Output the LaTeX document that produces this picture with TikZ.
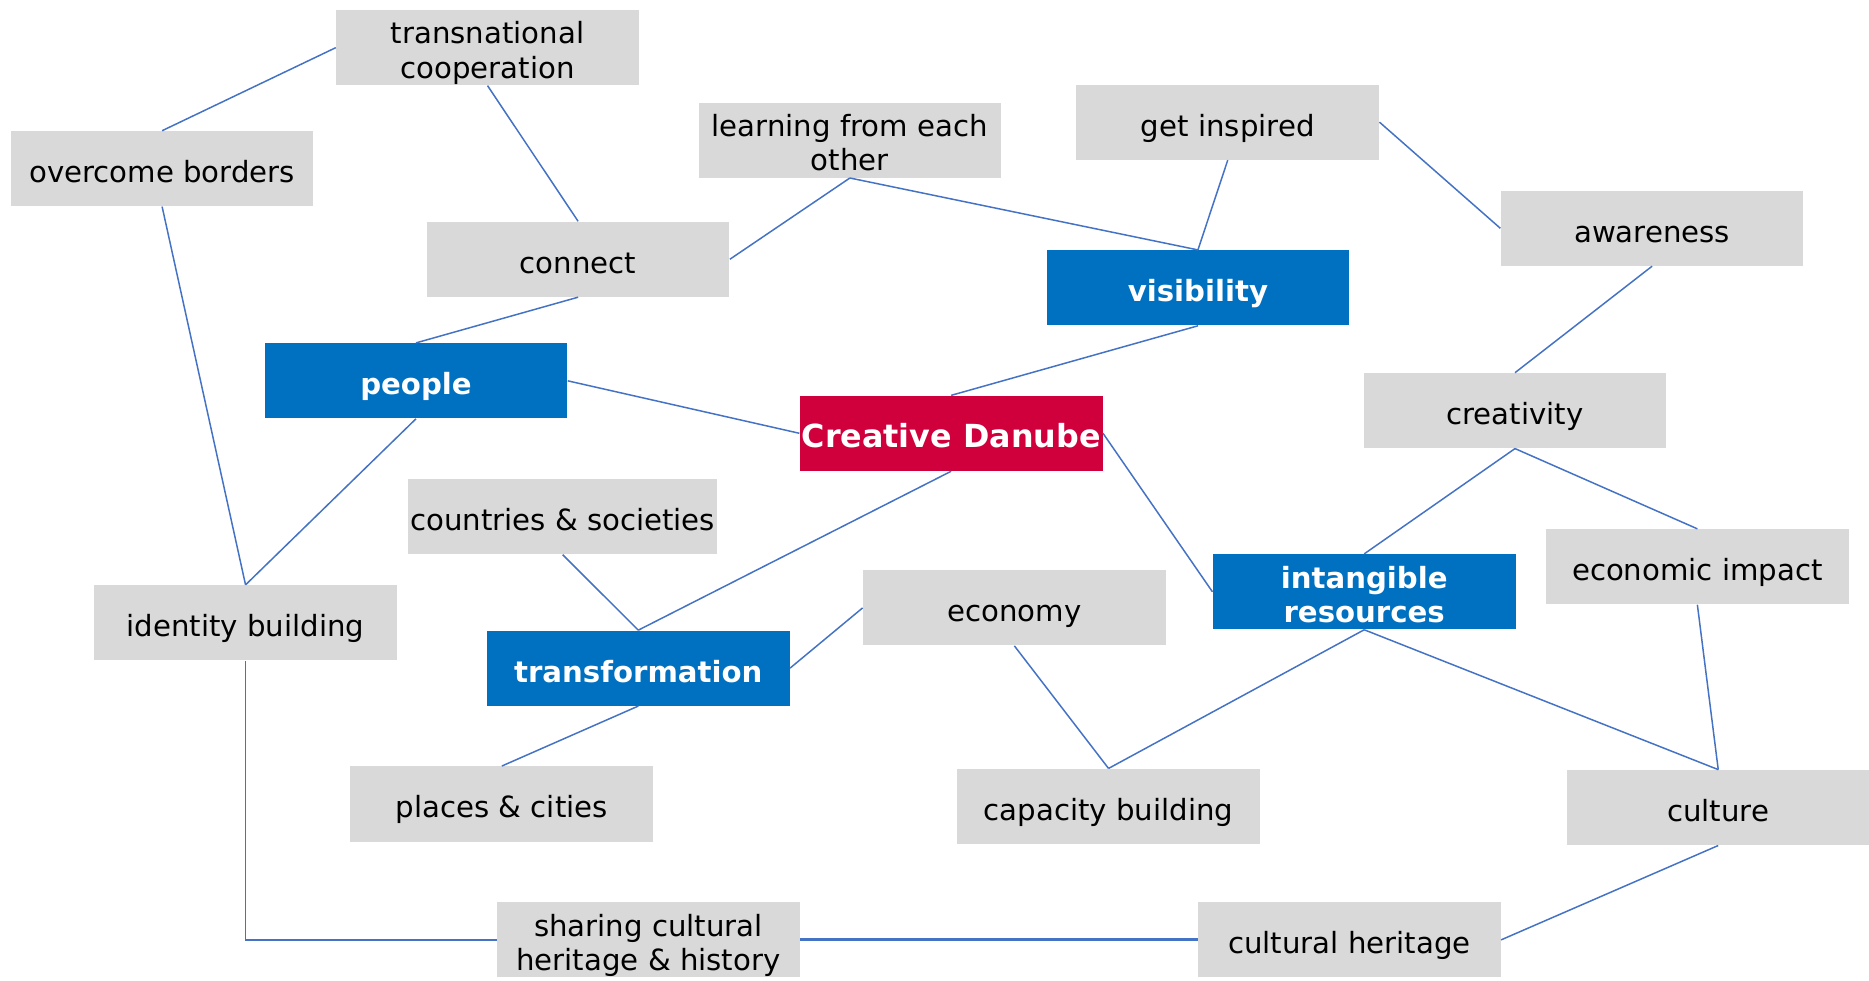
\documentclass[tikz,border=0pt]{standalone}
\usepackage{fontspec}
\setmainfont{DejaVu Sans}
\usetikzlibrary{positioning}

\definecolor{boxgray}{HTML}{D9D9D9}
\definecolor{themeblue}{HTML}{0070C0}
\definecolor{danubered}{HTML}{D0003C}
\definecolor{linkblue}{HTML}{4472C4}

\begin{document}
\begin{tikzpicture}[
  x=0.6pt,y=-0.6pt,
  font=\fontsize{14.7}{17.4}\selectfont,
  box/.style={fill=boxgray,minimum width=152.4pt,minimum height=37.8pt,align=center,inner sep=1pt,
    execute at begin node={\rule{0pt}{17.6pt}},execute at end node={\rule[-3.6pt]{0pt}{0pt}}},
  twoline/.style={inner ysep=0pt,text height=34.4pt,text depth=3.4pt},
  theme/.style={box,fill=themeblue,text=white,font=\fontsize{14.7}{17.4}\selectfont\bfseries},
  core/.style={theme,fill=danubered,font=\fontsize{16}{19}\selectfont\bfseries},
  link/.style={draw=linkblue,line width=0.75pt},
  bold link/.style={link,line width=1.5pt},
]
\useasboundingbox (0,0) rectangle (1568,823);

% hub and the four themes
\node[core] (danube) at (798,363.5) {Creative Danube};
\node[theme] (people) at (349,319.5) {people};
\node[theme] (vis) at (1005,241.5) {visibility};
\node[theme] (transf) at (535.5,560.5) {transformation};
\node[theme,twoline] (intang) at (1144.5,496.5) {intangible\\resources};

% grey topics
\node[box,twoline] (transn) at (409,40) {transnational\\cooperation};
\node[box] (borders) at (136,141.5) {overcome borders};
\node[box,twoline] (learn) at (713,117.5) {learning from each\\other};
\node[box] (inspired) at (1030,102.5) {get inspired};
\node[box] (aware) at (1386,191.5) {awareness};
\node[box] (connect) at (485,217.5) {connect};
\node[box] (creat) at (1271,344.5) {creativity};
\node[box] (countries) at (472,433.5) {countries \& societies};
\node[box] (econimp) at (1424,475.5) {economic impact};
\node[box] (identity) at (206,522.5) {identity building};
\node[box] (economy) at (851,510) {economy};
\node[box] (places) at (421,674.5) {places \& cities};
\node[box] (capacity) at (930,676.5) {capacity building};
\node[box] (culture) at (1441.5,677.5) {culture};
\node[box,twoline] (sharing) at (544,788.5) {sharing cultural\\heritage \& history};
\node[box] (heritage) at (1132,788.5) {cultural heritage};

% connectors
\draw[link] (transn.west) -- (borders.north);
\draw[link] (transn.south) -- (connect.north);
\draw[link] (borders.south) -- (identity.north);
\draw[link] (learn.south) -- (connect.east);
\draw[link] (learn.south) -- (vis.north);
\draw[link] (inspired.south) -- (vis.north);
\draw[link] (inspired.east) -- (aware.west);
\draw[link] (aware.south) -- (creat.north);
\draw[link] (connect.south) -- (people.north);
\draw[link] (vis.south) -- (danube.north);
\draw[link] (people.east) -- (danube.west);
\draw[link] (people.south) -- (identity.north);
\draw[link] (danube.south) -- (transf.north);
\draw[link] (danube.east) -- (intang.west);
\draw[link] (countries.south) -- (transf.north);
\draw[link] (creat.south) -- (intang.north);
\draw[link] (creat.south) -- (econimp.north);
\draw[link] (transf.east) -- (economy.west);
\draw[link] (transf.south) -- (places.north);
\draw[link] (economy.south) -- (capacity.north);
\draw[link] (intang.south) -- (capacity.north);
\draw[link] (intang.south) -- (culture.north);
\draw[link] (econimp.south) -- (culture.north);
\draw[link] (culture.south) -- (heritage.east);
\draw[link] (identity.south) |- (sharing.west);
\draw[bold link] (sharing.east) -- (heritage.west);
\end{tikzpicture}
\end{document}
